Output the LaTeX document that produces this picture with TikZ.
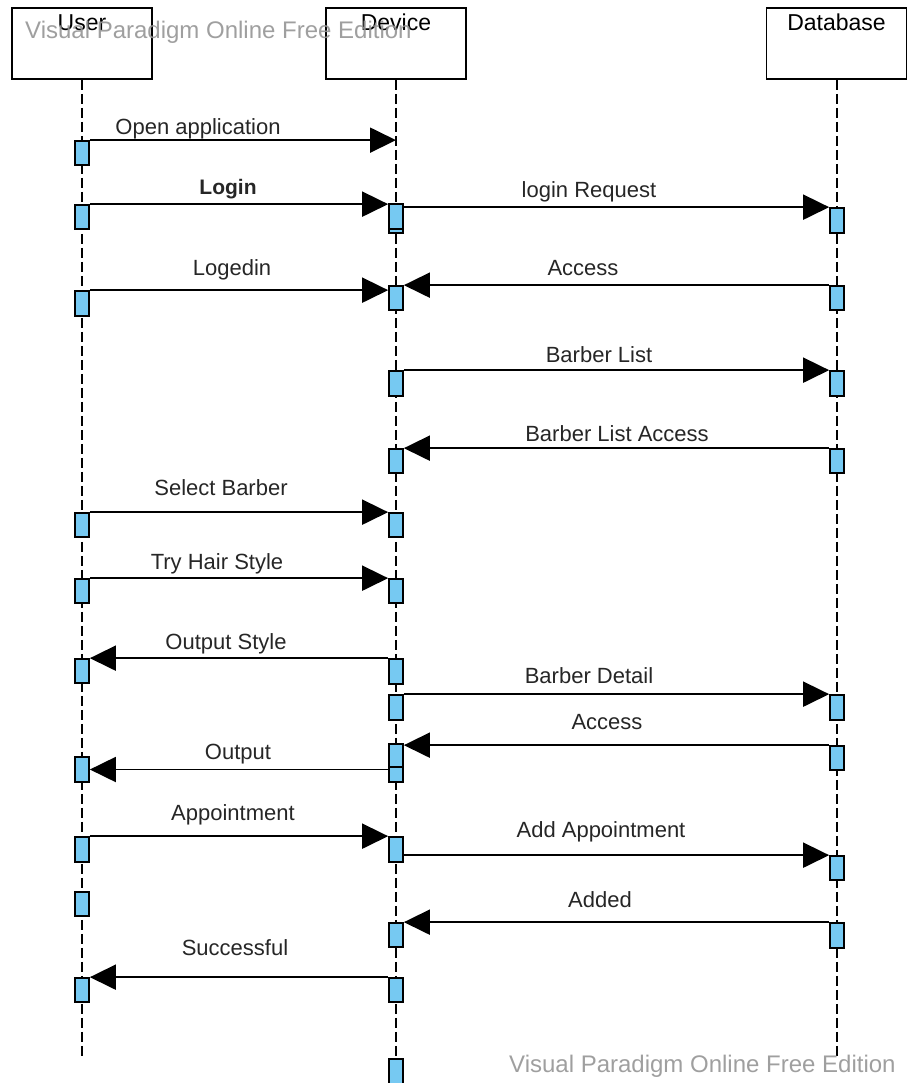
\documentclass[tikz,border=0pt]{standalone}
\usepackage{fontspec}
\setmainfont{Liberation Sans}
\usetikzlibrary{arrows.meta}
\definecolor{actblue}{HTML}{76C9F2}
\definecolor{wmgray}{HTML}{959595}
\tikzset{
  headbox/.style={draw=black, line width=1.8pt, fill=white, minimum width=140pt, minimum height=71pt, inner sep=0pt},
  headtext/.style={anchor=base, inner sep=0pt, font=\fontsize{23}{27}\selectfont},
  lifeline/.style={line width=1.8pt, dash pattern=on 10pt off 4pt},
  act/.style={draw=black, line width=1.7pt, fill=actblue, minimum width=14pt, inner sep=0pt},
  msg/.style={line width=1.9pt, -{Triangle[length=26pt,width=25pt]}},
  msglabel/.style={anchor=base, inner sep=0pt, text=black!85, font=\fontsize{22}{26}\selectfont},
  watermark/.style={anchor=base west, inner sep=0pt, text=wmgray, font=\fontsize{24}{28}\selectfont}
}
\begin{document}
\begin{tikzpicture}[x=1pt,y=-1pt]
\useasboundingbox (0,0) rectangle (907,1083);
% headers
\node[headbox] (user) at (82,43.5) {};
\node[headbox] (dev) at (396,43.5) {};
\node[headbox] (db) at (836.5,43.5) {};
\node[headtext] (usert) at (82,31) {User};
\node[headtext] (devt) at (396,31) {Device};
\node[headtext] (dbt) at (836.5,31) {Database};
% lifeline ends
\coordinate (uend) at (82,1057);
\coordinate (dend) at (396,1083);
\coordinate (bend) at (837,1057);
\draw[lifeline] (user.south) -- (uend);
\draw[lifeline] (dev.south) -- (dend);
\draw[lifeline] (db.south -| bend) -- (bend);
% user activations
\node[act, minimum height=24pt] (u1) at (82,153) {};
\node[act, minimum height=24pt] (u2) at (82,217) {};
\node[act, minimum height=25pt] (u3) at (82,303.5) {};
\node[act, minimum height=24pt] (u4) at (82,525) {};
\node[act, minimum height=24pt] (u5) at (82,591) {};
\node[act, minimum height=24pt] (u6) at (82,671) {};
\node[act, minimum height=25pt] (u7) at (82,769.5) {};
\node[act, minimum height=25pt] (u8) at (82,849.5) {};
\node[act, minimum height=24pt] (u9) at (82,904) {};
\node[act, minimum height=24pt] (u10) at (82,990) {};
% device activations
\node[act, minimum height=25pt] (d1a) at (396,216.5) {};
\node[act, minimum height=4pt] (d1b) at (396,231) {};
\node[act, minimum height=24pt] (d2) at (396,298) {};
\node[act, minimum height=25pt] (d3) at (396,383.5) {};
\node[act, minimum height=24pt] (d4) at (396,461) {};
\node[act, minimum height=24pt] (d5) at (396,525) {};
\node[act, minimum height=24pt] (d6) at (396,591) {};
\node[act, minimum height=25pt] (d7) at (396,671.5) {};
\node[act, minimum height=25pt] (d8) at (396,707.5) {};
\node[act, minimum height=23pt] (d9a) at (396,755.5) {};
\node[act, minimum height=15pt] (d9b) at (396,774.5) {};
\node[act, minimum height=25pt] (d10) at (396,849.5) {};
\node[act, minimum height=24pt] (d11) at (396,935) {};
\node[act, minimum height=24pt] (d12) at (396,990) {};
\node[act, minimum height=28pt] (d13) at (396,1073) {};
% database activations
\node[act, minimum height=25pt] (b1) at (837,220.5) {};
\node[act, minimum height=24pt] (b2) at (837,298) {};
\node[act, minimum height=25pt] (b3) at (837,383.5) {};
\node[act, minimum height=24pt] (b4) at (837,461) {};
\node[act, minimum height=25pt] (b5) at (837,707.5) {};
\node[act, minimum height=24pt] (b6) at (837,758) {};
\node[act, minimum height=24pt] (b7) at (837,868) {};
\node[act, minimum height=25pt] (b8) at (837,935.5) {};
% messages
\draw[msg] (u1.north east) -- (u1.north east -| dev.south);
\node[msglabel] (l1) at (198,135) {Open application};
\draw[msg] (u2.north east) -- (u2.north east -| d1a.west);
\node[msglabel, font=\bfseries\fontsize{21}{26}\selectfont] (l2) at (228,195) {Login};
\draw[msg] (b1.north west -| d1a.east) -- (b1.north west);
\node[msglabel] (l3) at (589,198) {login Request};
\draw[msg] (u3.north east) -- (u3.north east -| d2.west);
\node[msglabel] (l4) at (232,275) {Logedin};
\draw[msg] (b2.north west) -- (b2.north west -| d2.east);
\node[msglabel] (l5) at (583,275) {Access};
\draw[msg] (d3.north east) -- (d3.north east -| b3.west);
\node[msglabel] (l6) at (599,362) {Barber List};
\draw[msg] (b4.north west) -- (b4.north west -| d4.east);
\node[msglabel] (l7) at (617,441) {Barber List Access};
\draw[msg] (u4.north east) -- (u4.north east -| d5.west);
\node[msglabel] (l8) at (221,495) {Select Barber};
\draw[msg] (u5.north east) -- (u5.north east -| d6.west);
\node[msglabel] (l9) at (217,569) {Try Hair Style};
\draw[msg] (d7.north west) -- (d7.north west -| u6.east);
\node[msglabel] (l10) at (226,649) {Output Style};
\draw[msg] (d8.north east) -- (d8.north east -| b5.west);
\node[msglabel] (l11) at (589,683) {Barber Detail};
\draw[msg] (b6.north west) -- (b6.north west -| d9a.east);
\node[msglabel] (l12) at (607,729) {Access};
\draw[msg] (u7.east -| d9b.west) -- (u7.east);
\node[msglabel] (l13) at (238,759) {Output};
\draw[msg] (u8.north east) -- (u8.north east -| d10.west);
\node[msglabel] (l14) at (233,820) {Appointment};
\draw[msg] (b7.north west -| d10.east) -- (b7.north west);
\node[msglabel] (l15) at (601,837) {Add Appointment};
\draw[msg] (b8.north west) -- (b8.north west -| d11.east);
\node[msglabel] (l16) at (600,907) {Added};
\draw[msg] (d12.north west) -- (d12.north west -| u10.east);
\node[msglabel] (l17) at (235,955) {Successful};
% watermarks
\node[watermark, opacity=0.9] (wm1) at (25,39) {Visual Paradigm Online Free Edition};
\node[watermark, opacity=0.9] (wm2) at (509,1072) {Visual Paradigm Online Free Edition};
\end{tikzpicture}
\end{document}
